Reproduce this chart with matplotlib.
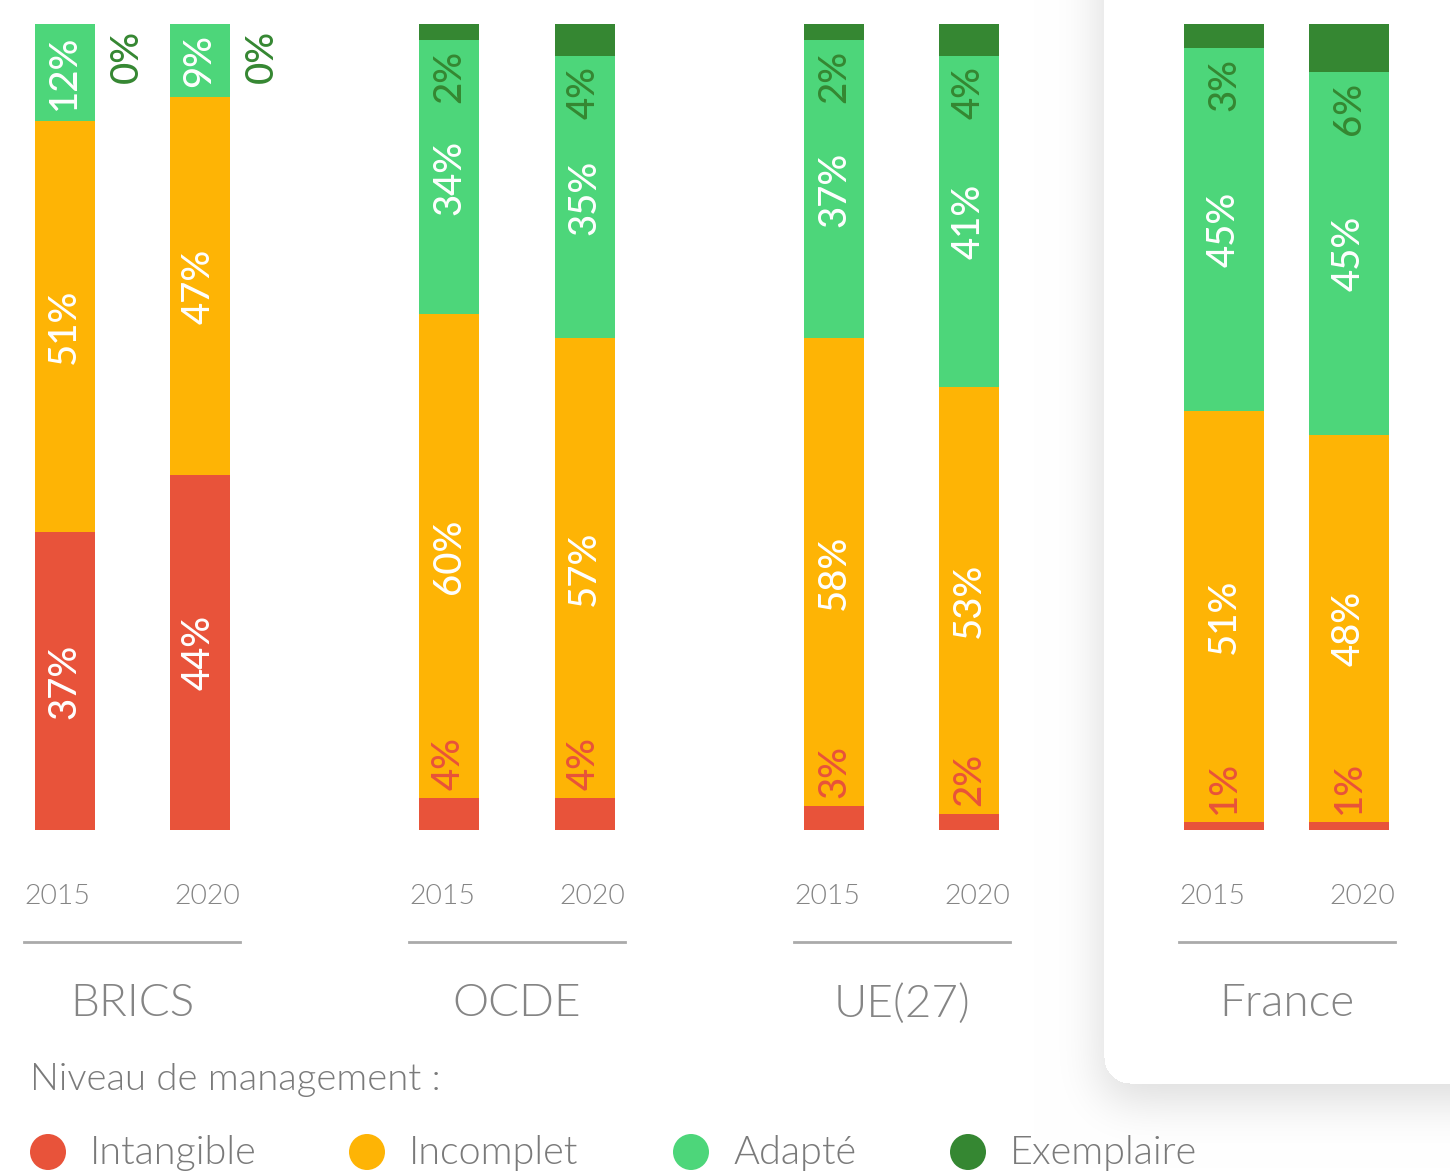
import numpy as np
import matplotlib
matplotlib.use("Agg")
import matplotlib.pyplot as plt
from matplotlib import transforms
from matplotlib.patches import Circle

# ---- data -----------------------------------------------------------------
groups = ["BRICS", "OCDE", "UE(27)", "France"]
years = ["2015", "2020"]
levels = ["Intangible", "Incomplet", "Adapté", "Exemplaire"]
colors = ["#E8533A", "#FEB405", "#4DD67A", "#358732"]

intangible = [[37, 44], [4, 4], [3, 2], [1, 1]]
incomplet = [[51, 47], [60, 57], [58, 53], [51, 48]]
adapte = [[12, 9], [34, 35], [37, 41], [45, 45]]
exemplaire = [[0, 0], [2, 4], [2, 4], [3, 6]]

series = [intangible, incomplet, adapte, exemplaire]

# ---- figure ---------------------------------------------------------------
W, H = 1450, 1171
DPI = 100
plt.rcParams["font.family"] = ["Lato", "DejaVu Sans"]
fig = plt.figure(figsize=(W / DPI, H / DPI), dpi=DPI)
fig.patch.set_facecolor("white")


def fy(py):
    """Pixel row (from top) to figure fraction."""
    return 1 - py / H


# Background with the highlighted card and its soft shadow
bg = fig.add_axes([0, 0, 1, 1], zorder=0)
bg.set_axis_off()
card_l, card_b, rad = 1104, 1083, 26
yy, xx = np.mgrid[0:H, 0:W]


def rounded_mask(left, bottom, r, dy=0):
    b = bottom + dy
    m = (xx >= left) & (yy <= b)
    cx, cy = left + r, b - r
    corner = (xx < cx) & (yy > cy)
    m &= ~corner | ((xx - cx) ** 2 + (yy - cy) ** 2 <= r * r)
    return m.astype(float)


def blur(a, s):
    k = np.arange(-3 * s, 3 * s + 1)
    g = np.exp(-k ** 2 / (2 * s * s))
    g /= g.sum()
    pad = 3 * s
    a2 = np.pad(a, pad, mode="edge")
    a2 = np.apply_along_axis(lambda r: np.convolve(r, g, mode="same"), 1, a2)
    a2 = np.apply_along_axis(lambda c: np.convolve(c, g, mode="same"), 0, a2)
    return a2[pad:-pad, pad:-pad]


shadow = blur(rounded_mask(card_l - 4, card_b, rad, dy=18), 22)
img = 1 - 0.13 * shadow
card = rounded_mask(card_l, card_b, rad)
img = np.where(card > 0, 1.0, img)
rgb = np.dstack([img, img, img])
bg.imshow(rgb, extent=[0, W, H, 0], interpolation="bilinear")
bg.set_xlim(0, W)
bg.set_ylim(H, 0)

# Bars axes: y in percent, x in group units
bar_bottom_px, bar_top_px = 830, 24
ax = fig.add_axes([0, fy(bar_bottom_px), 1, (bar_bottom_px - bar_top_px) / H], zorder=2)
ax.patch.set_alpha(0)
ax.set_axis_off()
spacing = 385.0
x0 = 132.0
ax.set_xlim(-x0 / spacing, (W - x0) / spacing)
ax.set_ylim(0, 100)

label_kw = dict(rotation=90, ha="center", fontsize=27.5, fontweight="medium")

for gi, g in enumerate(groups):
    wide = g == "France"
    width = (80 if wide else 60) / spacing
    off = (62.5 if wide else 67.5) / spacing
    for yi in range(2):
        xc = gi + (-off if yi == 0 else off)
        bottom = 0
        vals = [s[gi][yi] for s in series]
        for li, v in enumerate(vals):
            ax.bar(xc, v, width=width, bottom=bottom, color=colors[li], linewidth=0)
            txt = f"{v}%"
            if li == 0:
                if v >= 10:
                    ax.text(xc, bottom + v / 2, txt, color="white", va="center", **label_kw)
                else:
                    ax.annotate(txt, (xc, bottom + v), xytext=(0, 8), textcoords="offset pixels",
                                color=colors[0], va="bottom", **label_kw)
            elif li in (1, 2):
                ax.text(xc, bottom + v / 2, txt, color="white", va="center", **label_kw)
            else:
                if v == 0:
                    ax.annotate(txt, (xc, bottom), xytext=(63, -6), textcoords="offset pixels",
                                color=colors[3], va="top", **label_kw)
                else:
                    ax.annotate(txt, (xc, bottom), xytext=(0, -10), textcoords="offset pixels",
                                color=colors[3], va="top", **label_kw)
            bottom += v

# Year labels, separators and group names
tr = transforms.blended_transform_factory(ax.transData, fig.transFigure)
gray = "#858585"
for gi, g in enumerate(groups):
    yoff = 75 / spacing
    for yi, yr in enumerate(years):
        xc = gi + (-yoff if yi == 0 else yoff)
        fig.text(xc, fy(896), yr, transform=tr, ha="center", va="center",
                 fontsize=20.5, color=gray, fontweight=300)
    half = 108 / spacing
    fig.add_artist(plt.Line2D([gi - half, gi + half], [fy(942), fy(942)], transform=tr,
                              color="#AAAAAA", linewidth=2, zorder=3))
    fig.text(gi, fy(1004), g, transform=tr, ha="center", va="center",
             fontsize=33, color=gray, fontweight=300)

# Legend
fig.text(30 / W, fy(1080), "Niveau de management :", ha="left", va="center",
         fontsize=27.5, color="#7A7A7A", fontweight=300)
leg_x = [48, 367, 691, 968]
leg_ax = fig.add_axes([0, 0, 1, 1], zorder=3)
leg_ax.set_axis_off()
leg_ax.patch.set_alpha(0)
leg_ax.set_xlim(0, W)
leg_ax.set_ylim(H, 0)
for cx, lab, col in zip(leg_x, levels, colors):
    leg_ax.add_patch(Circle((cx, 1152), 18, color=col, linewidth=0))
    leg_ax.text(cx + 42, 1153, lab, ha="left", va="center", fontsize=28.5,
                color="#7A7A7A", fontweight=300)

fig.savefig("out.png", dpi=DPI)
